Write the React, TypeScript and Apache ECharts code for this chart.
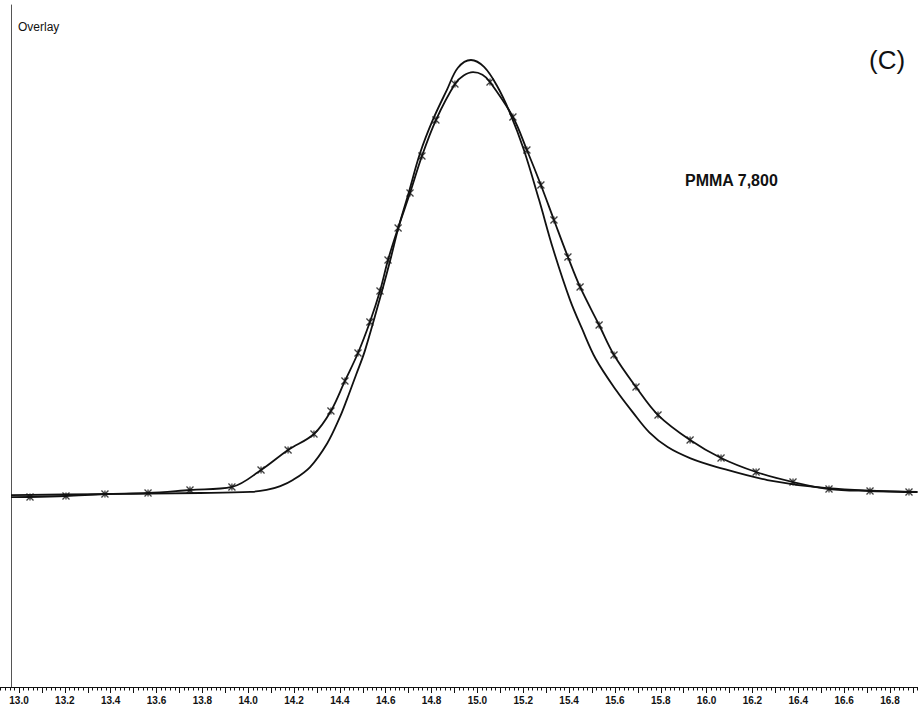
import React, { useEffect, useRef } from "react";
import * as echarts from "echarts";

// Curve A: smooth trace without markers (x = elution volume, y = relative response)
const curveA: [number, number][] = [
  [12.965, -0.5], [13.35, -0.25], [13.79, 0], [14.01, 0.25], [14.08, 0.7],
  [14.14, 1.6], [14.195, 3.0], [14.27, 6.0], [14.345, 11.5], [14.4, 17.5],
  [14.43, 21.5], [14.47, 27.2], [14.51, 33.0], [14.585, 46.9], [14.62, 53.8],
  [14.655, 61.2], [14.7, 69.3], [14.75, 78.5], [14.805, 86.1], [14.867, 93.1],
  [14.915, 98.2], [14.972, 100], [15.029, 98.4], [15.086, 94.0], [15.142, 87.8],
  [15.203, 79.2], [15.269, 67.7], [15.33, 56.4], [15.404, 44.6], [15.456, 38.0],
  [15.516, 31.0], [15.607, 23.6], [15.68, 18.5], [15.75, 14.0], [15.83, 10.6],
  [15.93, 8.0], [16.045, 6.0], [16.265, 3.0], [16.525, 1.15], [16.92, 0.25],
];

// Curve B: marked trace, marker positions
const curveBMarkers: [number, number][] = [
  [13.048, -0.92], [13.205, -0.69], [13.375, -0.23], [13.563, 0], [13.746, 0.69],
  [13.929, 1.39], [14.056, 5.31], [14.174, 9.93], [14.287, 13.63], [14.361, 18.94],
  [14.422, 25.87], [14.479, 32.33], [14.531, 39.49], [14.575, 46.65], [14.61, 53.81],
  [14.654, 61.2], [14.706, 69.28], [14.758, 77.83], [14.819, 86.14], [14.902, 94.46],
  [15.055, 94.92], [15.155, 86.84], [15.216, 79.21], [15.277, 71.13], [15.334, 63.05],
  [15.395, 54.5], [15.448, 47.58], [15.531, 38.8], [15.596, 31.87], [15.692, 24.48],
  [15.788, 18.01], [15.928, 12.24], [16.063, 8.08], [16.216, 4.85], [16.377, 2.54],
  [16.534, 0.92], [16.713, 0.46], [16.883, 0.23],
];

// Curve B: extra points of the trace between markers
const curveBExtra: [number, number][] = [
  [12.965, -0.95], [14.94, 96.4], [14.981, 97.2], [15.022, 96.6], [16.92, 0.2],
];

const X_MIN = 12.9;
const X_MAX = 17.0;
const Y_MIN = -44.8;
const Y_MAX = 112.7;

const markerPath = "path://M0,0L10,10M10,0L0,10M5,0L5,10";

export default function App() {
  const ref = useRef<HTMLDivElement>(null);

  useEffect(() => {
    if (!ref.current) return;
    const chart = echarts.init(ref.current, undefined, { renderer: "svg" });
    const curveBLine = [...curveBMarkers, ...curveBExtra].sort((a, b) => a[0] - b[0]);
    const lineColor = "#111";

    chart.setOption({
      animation: false,
      backgroundColor: "#ffffff",
      grid: {
        left: -3.92,
        right: -17.8,
        top: 5,
        bottom: 23,
        containLabel: false,
        outerBoundsMode: "none",
      },
      xAxis: {
        type: "value",
        min: X_MIN,
        max: X_MAX,
        interval: 0.1,
        axisLine: { show: true, onZero: false, lineStyle: { color: "#111", width: 1.2 } },
        axisTick: { show: true, inside: false, length: 6, lineStyle: { color: "#111", width: 1 } },
        minorTick: { show: true, splitNumber: 5, length: 3.5, lineStyle: { color: "#111", width: 1 } },
        splitLine: { show: false },
        minorSplitLine: { show: false },
        axisLabel: {
          margin: 8,
          fontFamily: "Liberation Sans, Arial, sans-serif",
          fontSize: 10,
          fontWeight: "bold",
          color: "#111",
          formatter: (v: number) => {
            const t = Math.round(v * 10);
            if (t % 2 !== 0 || v < 12.99 || v > 16.91) return "";
            return (t / 10).toFixed(1);
          },
        },
      },
      yAxis: {
        type: "value",
        min: Y_MIN,
        max: Y_MAX,
        offset: -14.92,
        axisLine: { show: true, onZero: false, lineStyle: { color: "#555", width: 1 } },
        axisTick: { show: false },
        axisLabel: { show: false },
        splitLine: { show: false },
      },
      graphic: [
        {
          type: "text",
          left: 18,
          top: 21,
          style: {
            text: "Overlay",
            fontFamily: "Liberation Sans, Arial, sans-serif",
            fontSize: 12,
            fill: "#111",
          },
        },
        {
          type: "text",
          left: 869,
          top: 47,
          style: {
            text: "(C)",
            fontFamily: "Liberation Sans, Arial, sans-serif",
            fontSize: 26,
            fill: "#111",
          },
        },
        {
          type: "text",
          left: 685,
          top: 172,
          style: {
            text: "PMMA 7,800",
            fontFamily: "Liberation Sans, Arial, sans-serif",
            fontSize: 16,
            fontWeight: "bold",
            fill: "#111",
          },
        },
      ],
      series: [
        {
          name: "A",
          type: "line",
          data: curveA,
          smooth: 0.35,
          showSymbol: false,
          symbol: "none",
          lineStyle: { color: lineColor, width: 1.8 },
          z: 2,
        },
        {
          name: "B",
          type: "line",
          data: curveBLine,
          smooth: 0.35,
          showSymbol: false,
          symbol: "none",
          lineStyle: { color: lineColor, width: 1.8 },
          z: 2,
        },
        {
          name: "B markers",
          type: "scatter",
          data: curveBMarkers,
          symbol: markerPath,
          symbolSize: 7,
          itemStyle: { color: "none", borderColor: lineColor, borderWidth: 1.3 },
          z: 3,
        },
      ],
    });

    return () => chart.dispose();
  }, []);

  return (
    <div
      ref={ref}
      style={{ position: "fixed", left: 0, top: 0, width: 918, height: 710, background: "#fff" }}
    />
  );
}
